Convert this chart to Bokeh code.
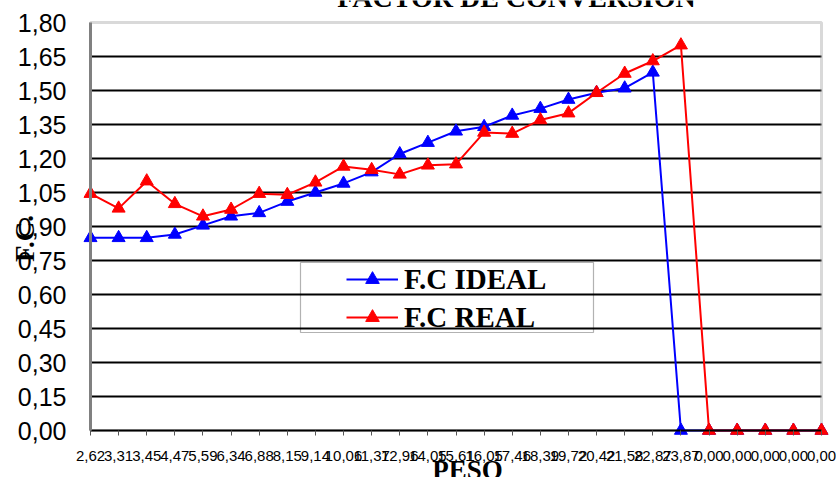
from bokeh.plotting import figure
from bokeh.models import FixedTicker, Range1d, Label, Legend, LegendItem, BoxAnnotation
from bokeh.embed import file_html
from bokeh.resources import INLINE

# ---- data ----
peso_labels = ["2,62", "3,31", "3,45", "4,47", "5,59", "6,34", "6,88", "8,15", "9,14",
               "10,06", "11,37", "12,96", "14,05", "15,61", "16,05", "17,46", "18,39",
               "19,72", "20,42", "21,58", "22,87", "23,87", "0,00", "0,00", "0,00",
               "0,00", "0,00"]
fc_ideal = [0.85, 0.85, 0.85, 0.865, 0.905, 0.945, 0.96, 1.01, 1.05, 1.09, 1.14, 1.22,
            1.27, 1.32, 1.34, 1.39, 1.42, 1.46, 1.49, 1.51, 1.58, 0.0, 0.0, 0.0, 0.0,
            0.0, 0.0]
fc_real = [1.045, 0.98, 1.10, 1.00, 0.945, 0.975, 1.045, 1.04, 1.095, 1.165, 1.15, 1.13,
           1.17, 1.175, 1.315, 1.31, 1.37, 1.40, 1.49, 1.575, 1.63, 1.70, 0.0, 0.0, 0.0,
           0.0, 0.0]
y_ticks = [0.0, 0.15, 0.3, 0.45, 0.6, 0.75, 0.9, 1.05, 1.2, 1.35, 1.5, 1.65, 1.8]
y_tick_labels = ["0,00", "0,15", "0,30", "0,45", "0,60", "0,75", "0,90", "1,05", "1,20",
                 "1,35", "1,50", "1,65", "1,80"]
grid_ticks = [0.15, 0.3, 0.45, 0.6, 0.75, 0.9, 1.05, 1.2, 1.35, 1.5, 1.65]

title_text = "FACTOR DE CONVERSION"
x_title = "PESO"
y_title = "F.C."

x = list(range(len(peso_labels)))
x_lo, x_hi = x[0], x[-1]
y_lo, y_hi = y_ticks[0], y_ticks[-1]

# ---- layout (pixels) ----
W, H = 836, 477
PL, PR, PT, PB = 90, 821, 22, 430          # plot-area box in canvas pixels
sx = (PR - PL) / (x_hi - x_lo)
sy = (PB - PT) / (y_hi - y_lo)
xr = Range1d(x_lo - PL / sx, x_lo + (W - PL) / sx)
yr = Range1d(y_lo - (H - PB) / sy, y_lo + PB / sy)

p = figure(width=W, height=H, output_backend="svg", toolbar_location=None,
           x_range=xr, y_range=yr,
           min_border_left=0, min_border_right=0, min_border_top=0, min_border_bottom=0)
p.background_fill_color = "white"
p.border_fill_color = "white"
p.outline_line_color = None

# axes (drawn at the plot-area edges)
p.xaxis.fixed_location = y_lo
p.xaxis.bounds = (x_lo, x_hi)
p.xaxis.ticker = FixedTicker(ticks=x)
p.xaxis.major_label_overrides = {i: lab for i, lab in enumerate(peso_labels)}
p.xaxis.major_label_text_font = "Liberation Sans"
p.xaxis.major_label_text_font_size = "15px"
p.xaxis.major_label_text_color = "black"
p.xaxis.major_tick_out = 5
p.xaxis.major_tick_in = 0
p.xaxis.major_tick_line_color = "#555555"
p.xaxis.major_tick_line_width = 1
p.xaxis.minor_tick_line_color = None
p.xaxis.axis_line_color = "black"
p.xaxis.axis_line_width = 2
p.xaxis.major_label_standoff = 15

p.yaxis.fixed_location = x_lo
p.yaxis.bounds = (y_lo, y_hi)
p.yaxis.ticker = FixedTicker(ticks=y_ticks)
p.yaxis.major_label_overrides = {t: lab for t, lab in zip(y_ticks, y_tick_labels)}
p.yaxis.major_label_text_font = "Liberation Sans"
p.yaxis.major_label_text_font_size = "25px"
p.yaxis.major_label_text_color = "black"
p.yaxis.major_tick_out = 0
p.yaxis.major_tick_in = 0
p.yaxis.minor_tick_line_color = None
p.yaxis.axis_line_color = "#808080"
p.yaxis.axis_line_width = 3
p.yaxis.major_label_standoff = 24

# plot-area border (gray)
frame_box = BoxAnnotation(left=x_lo, right=x_hi, bottom=y_lo, top=y_hi, fill_alpha=0,
                          line_color="#808080", line_width=3, level="underlay")
p.add_layout(frame_box)

# horizontal grid lines
p.xgrid.grid_line_color = None
p.ygrid.ticker = FixedTicker(ticks=grid_ticks)
p.ygrid.grid_line_color = "black"
p.ygrid.grid_line_width = 2
g = p.ygrid[0]
if "cross_bounds" in g.properties():
    g.cross_bounds = (x_lo, x_hi)
else:
    g.grid_line_color = None
    p.segment(x0=[x_lo] * len(grid_ticks), x1=[x_hi] * len(grid_ticks),
              y0=grid_ticks, y1=grid_ticks, line_color="black", line_width=2,
              level="underlay")

# series
l1 = p.line(x, fc_ideal, line_color="#0000FF", line_width=2)
s1 = p.scatter(x, fc_ideal, marker="triangle", size=13, fill_color="#0000FF",
               line_color="#0000FF")
l2 = p.line(x, fc_real, line_color="#FF0000", line_width=2)
s2 = p.scatter(x, fc_real, marker="triangle", size=13, fill_color="#FF0000",
               line_color="#FF0000")

# legend box
box = BoxAnnotation(left=(300 - PL) / sx, right=(593 - PL) / sx,
                    top=(PB - 262) / sy, bottom=(PB - 332) / sy,
                    fill_alpha=0, line_color="black", line_width=1.2)
p.add_layout(box)

legend = Legend(items=[LegendItem(label="F.C IDEAL", renderers=[l1, s1]),
                       LegendItem(label="F.C REAL", renderers=[l2, s2])],
                location=(346, H - 336), orientation="vertical",
                label_text_font="Liberation Serif", label_text_font_style="bold",
                label_text_font_size="29px", label_text_color="black",
                glyph_width=52, glyph_height=34, label_height=38, label_standoff=6,
                padding=0, spacing=0, margin=0,
                border_line_alpha=0, background_fill_alpha=0)
p.add_layout(legend)

# titles
p.add_layout(Label(x=(516 - PL) / sx, y=(PB + 3) / sy, text=title_text,
                   text_align="center", text_baseline="alphabetic",
                   text_font="Liberation Serif", text_font_style="bold",
                   text_font_size="28px", text_color="black"))
p.add_layout(Label(x=(467 - PL) / sx, y=(PB - 469) / sy, text=x_title,
                   text_align="center", text_baseline="alphabetic",
                   text_font="Liberation Serif", text_font_style="bold",
                   text_font_size="27px", text_color="black"))
p.add_layout(Label(x=(24 - PL) / sx, y=(PB - 238) / sy, text=y_title,
                   text_align="center", text_baseline="middle", angle=1.5708,
                   text_font="Liberation Serif", text_font_style="bold",
                   text_font_size="27px", text_color="black"))

open("out.html", "w").write(file_html(p, INLINE))
